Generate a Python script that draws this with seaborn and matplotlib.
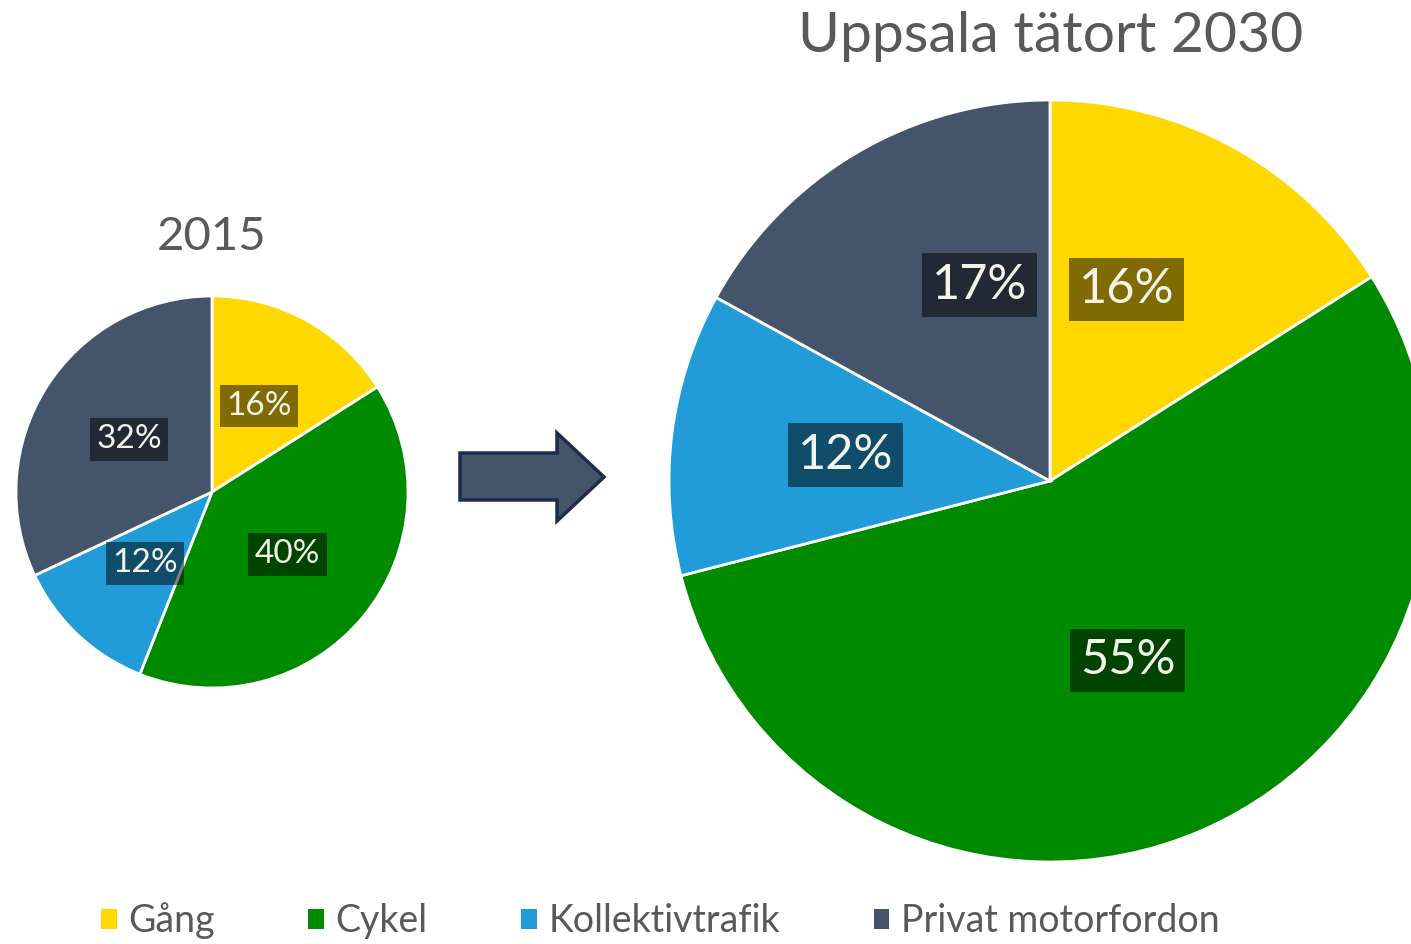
import numpy as np
import matplotlib
matplotlib.use('Agg')
import matplotlib.pyplot as plt
from matplotlib.patches import Polygon
import seaborn as sns

categories = ["Gång", "Cykel", "Kollektivtrafik", "Privat motorfordon"]
share_2015 = [16, 40, 12, 32]
share_2030 = [16, 55, 12, 17]
colors = ["#FFD800", "#008A00", "#229CD8", "#44546A"]

sns.set_theme(style="white")
plt.rcParams['font.family'] = ['Lato', 'DejaVu Sans']

W, H = 1411, 944
fig = plt.figure(figsize=(W / 100, H / 100), dpi=100)
fig.patch.set_facecolor("white")


def px_axes(cx, cy, r):
    # square axes centred on pixel (cx, cy) with pixel radius r
    return fig.add_axes([(cx - r) / W, (H - cy - r) / H, 2 * r / W, 2 * r / H])


def draw_pie(ax, values, fs, pctdist, pad):
    wedges, _, autotexts = ax.pie(
        values, colors=colors, startangle=90, counterclock=False, radius=1,
        autopct=lambda p: f"{p:.0f}%", pctdistance=pctdist,
        wedgeprops=dict(edgecolor="white", linewidth=2),
        textprops=dict(color="#F4F4EC", fontsize=fs))
    for t in autotexts:
        t.set_bbox(dict(facecolor="black", alpha=0.5, edgecolor="none", pad=pad))
    ax.set_xlim(-1, 1)
    ax.set_ylim(-1, 1)
    ax.set_aspect("equal")
    return wedges, autotexts


ax1 = px_axes(212, 492, 196)
wedges, _ = draw_pie(ax1, share_2015, 24, 0.5, 4.5)

ax2 = px_axes(1050, 481, 381)
_, at2 = draw_pie(ax2, share_2030, 35, 0.54, 7)
# nudge the upper labels towards the vertical divider, as in the original
x, y = at2[0].get_position()
at2[0].set_position((x - 0.06, y + 0.03))
x, y = at2[3].get_position()
at2[3].set_position((x + 0.09, y + 0.05))
x, y = at2[1].get_position()
at2[1].set_position((x - 0.01, y + 0.025))

fig.text(212 / W, 1 - 237 / H, "2015", ha="center", va="center",
         fontsize=34, color="#595959")
fig.text(1051 / W, 1 - 37 / H, "Uppsala tätort 2030", ha="center", va="center",
         fontsize=41, color="#595959")

# arrow between the pies
axa = fig.add_axes([0, 0, 1, 1], zorder=-1)
axa.set_xlim(0, W)
axa.set_ylim(H, 0)
axa.axis("off")
arrow = [(460, 453), (557, 453), (557, 433), (604, 477), (557, 521),
         (557, 500), (460, 500)]
axa.add_patch(Polygon(arrow, closed=True, facecolor="#44546A",
                      edgecolor="#1F2A4F", linewidth=2.5))

leg = fig.legend(wedges, categories, loc="center left", ncol=4,
                 bbox_to_anchor=(101 / W, 1 - 921 / H), frameon=False,
                 fontsize=27, handlelength=0.42, handleheight=0.42,
                 handletextpad=0.3, columnspacing=2.5, borderaxespad=0,
                 borderpad=0)
for t in leg.get_texts():
    t.set_color("#595959")
for h in leg.legend_handles:
    h.set_edgecolor("none")

plt.savefig("out.png", dpi=100)
plt.close()
